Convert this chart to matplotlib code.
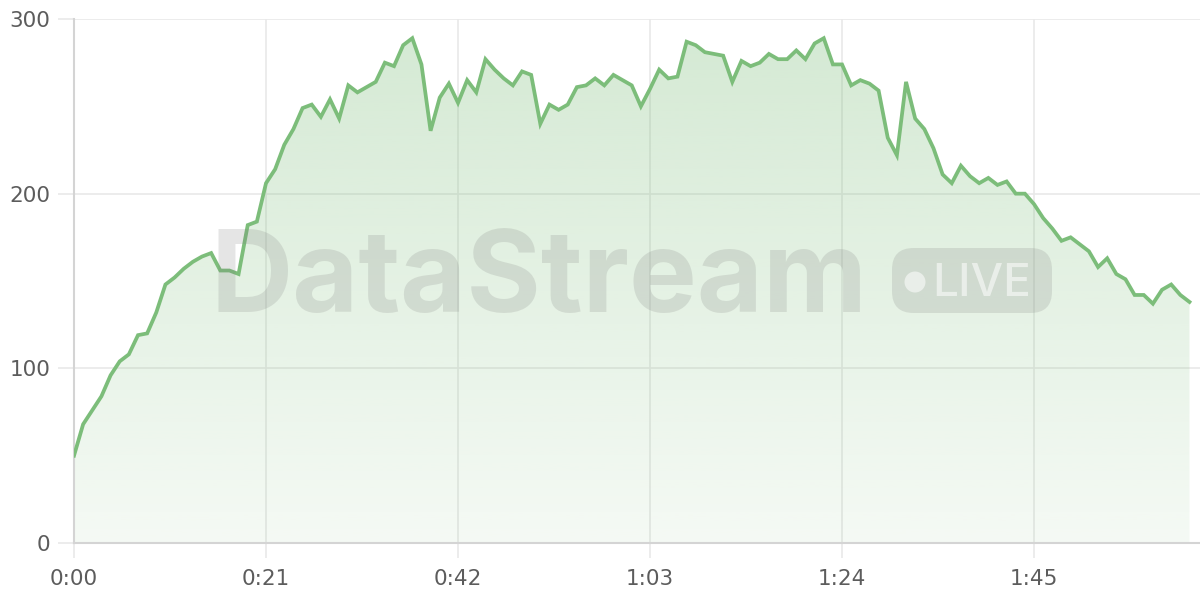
import matplotlib
matplotlib.use("Agg")
import matplotlib.pyplot as plt
import numpy as np
from matplotlib.patches import FancyBboxPatch, Ellipse

# viewers per minute
viewers = [
    50, 68, 76, 84, 96, 104, 108, 119, 120, 132,
    148, 152, 157, 161, 164, 166, 156, 156, 154, 182,
    184, 206, 214, 228, 237, 249, 251, 244, 254, 243,
    262, 258, 261, 264, 275, 273, 285, 289, 274, 236,
    255, 263, 252, 265, 258, 277, 271, 266, 262, 270,
    268, 240, 251, 248, 251, 261, 262, 266, 262, 268,
    265, 262, 250, 260, 271, 266, 267, 287, 285, 281,
    280, 279, 264, 276, 273, 275, 280, 277, 277, 282,
    277, 286, 289, 274, 274, 262, 265, 263, 259, 232,
    222, 264, 243, 237, 226, 211, 206, 216, 210, 206,
    209, 205, 207, 200, 200, 194, 186, 180, 173, 175,
    171, 167, 158, 163, 154, 151, 142, 142, 137, 145,
    148, 142, 138,
]
minutes = np.arange(len(viewers))

xtick_pos = [0, 21, 42, 63, 84, 105]
xtick_labels = ["0:00", "0:21", "0:42", "1:03", "1:24", "1:45"]
ytick_pos = [0, 100, 200, 300]

line_color = "#7cbd7a"
grid_color = "#e9e9e9"
axis_color = "#d4d4d4"
text_color = "#5c5c5c"

fig = plt.figure(figsize=(12, 6), dpi=100)
ax = fig.add_axes([74 / 1200, 57 / 600, 1126 / 1200, 524 / 600])
ax.set_xlim(0, 123.15)
ax.set_ylim(0, 300)

# gradient fill under the line
poly = ax.fill_between(minutes, viewers, 0, color="none", lw=0)
grad = np.zeros((256, 1, 4))
grad[:, 0, 0] = 124 / 255
grad[:, 0, 1] = 189 / 255
grad[:, 0, 2] = 122 / 255
grad[:, 0, 3] = np.linspace(0.33, 0.08, 256)
img = ax.imshow(grad, extent=[0, minutes[-1], 0, 300], aspect="auto",
                origin="upper", zorder=1)
img.set_clip_path(poly.get_paths()[0], transform=ax.transData)

ax.plot(minutes, viewers, color=line_color, lw=2.7, zorder=4,
        solid_joinstyle="miter")

ax.set_xticks(xtick_pos)
ax.set_xticklabels(xtick_labels)
ax.set_yticks(ytick_pos)
ax.grid(True, color=grid_color, lw=1.2, zorder=0)
ax.set_axisbelow(True)
for side in ["top", "right"]:
    ax.spines[side].set_visible(False)
for side in ["left", "bottom"]:
    ax.spines[side].set_color(axis_color)
    ax.spines[side].set_linewidth(1.5)
ax.tick_params(axis="y", length=11.5, width=1.2, color=grid_color, pad=5.5,
               labelsize=15.5, labelcolor=text_color)
ax.tick_params(axis="x", length=10.5, width=1.2, color=grid_color, pad=8,
               labelsize=15.5, labelcolor=text_color)

# watermark
fig.text(210 / 1200, 1 - 312 / 600, "DataStream", fontsize=82,
         fontweight="bold", family="Inter", color="#808080", alpha=0.2,
         ha="left", va="baseline", zorder=3)
pill = FancyBboxPatch((892 / 1200, 1 - 313 / 600), 160 / 1200, 65 / 600,
                      boxstyle="round,pad=0,rounding_size=0.018",
                      transform=fig.transFigure, facecolor="#808080",
                      alpha=0.2, edgecolor="none", zorder=3,
                      mutation_aspect=2)
fig.patches.append(pill)
dot = Ellipse((915 / 1200, 1 - 282 / 600), 21 / 1200, 21 / 600,
              transform=fig.transFigure, facecolor="white", alpha=0.55,
              edgecolor="none", zorder=3)
fig.patches.append(dot)
fig.text(932 / 1200, 1 - 296 / 600, "LIVE", fontsize=33, fontweight="medium",
         family="Inter", color="white", alpha=0.55, ha="left", va="baseline",
         zorder=3)

fig.savefig("out.png", dpi=100)
